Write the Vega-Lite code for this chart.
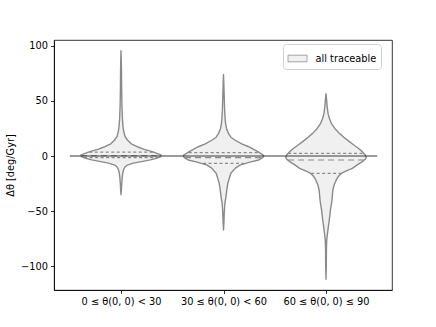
{
  "$schema": "https://vega.github.io/schema/vega-lite/v6.json",
  "width": 338,
  "height": 250,
  "autosize": {"type": "none"},
  "padding": {"left": 54, "top": 40, "right": 44, "bottom": 37},
  "config": {
    "font": "DejaVu Sans",
    "view": {"stroke": "#000", "strokeWidth": 0.8},
    "axis": {
      "grid": false,
      "labelFont": "DejaVu Sans",
      "labelFontSize": 9.8,
      "labelColor": "#000",
      "domainColor": "#000",
      "domainWidth": 0.8,
      "tickColor": "#000",
      "tickWidth": 0.8,
      "tickSize": 3.5,
      "labelPadding": 3,
      "titleFont": "DejaVu Sans",
      "titleFontSize": 9.8,
      "titleFontWeight": "normal",
      "titleColor": "#000"
    }
  },
  "datasets": {
    "violins": [
      {"g": 0, "s": "all traceable", "y": 95.5, "w": 0},
      {"g": 0, "s": "all traceable", "y": 80, "w": 0.004},
      {"g": 0, "s": "all traceable", "y": 60, "w": 0.006},
      {"g": 0, "s": "all traceable", "y": 45, "w": 0.009},
      {"g": 0, "s": "all traceable", "y": 35, "w": 0.013},
      {"g": 0, "s": "all traceable", "y": 28, "w": 0.018},
      {"g": 0, "s": "all traceable", "y": 23.5, "w": 0.024},
      {"g": 0, "s": "all traceable", "y": 18, "w": 0.038},
      {"g": 0, "s": "all traceable", "y": 14.5, "w": 0.062},
      {"g": 0, "s": "all traceable", "y": 11, "w": 0.1},
      {"g": 0, "s": "all traceable", "y": 8.4, "w": 0.158},
      {"g": 0, "s": "all traceable", "y": 6, "w": 0.226},
      {"g": 0, "s": "all traceable", "y": 3.9, "w": 0.305},
      {"g": 0, "s": "all traceable", "y": 2, "w": 0.364},
      {"g": 0, "s": "all traceable", "y": 0.8, "w": 0.393},
      {"g": 0, "s": "all traceable", "y": -0.5, "w": 0.388},
      {"g": 0, "s": "all traceable", "y": -2.1, "w": 0.345},
      {"g": 0, "s": "all traceable", "y": -3.5, "w": 0.286},
      {"g": 0, "s": "all traceable", "y": -5.1, "w": 0.198},
      {"g": 0, "s": "all traceable", "y": -6.5, "w": 0.12},
      {"g": 0, "s": "all traceable", "y": -8.2, "w": 0.062},
      {"g": 0, "s": "all traceable", "y": -10, "w": 0.038},
      {"g": 0, "s": "all traceable", "y": -12.7, "w": 0.024},
      {"g": 0, "s": "all traceable", "y": -16, "w": 0.016},
      {"g": 0, "s": "all traceable", "y": -20, "w": 0.011},
      {"g": 0, "s": "all traceable", "y": -25, "w": 0.007},
      {"g": 0, "s": "all traceable", "y": -30, "w": 0.004},
      {"g": 0, "s": "all traceable", "y": -35, "w": 0},

      {"g": 1, "s": "all traceable", "y": 74, "w": 0},
      {"g": 1, "s": "all traceable", "y": 60, "w": 0.005},
      {"g": 1, "s": "all traceable", "y": 50, "w": 0.008},
      {"g": 1, "s": "all traceable", "y": 41.7, "w": 0.011},
      {"g": 1, "s": "all traceable", "y": 35, "w": 0.015},
      {"g": 1, "s": "all traceable", "y": 29.6, "w": 0.02},
      {"g": 1, "s": "all traceable", "y": 25, "w": 0.029},
      {"g": 1, "s": "all traceable", "y": 20.5, "w": 0.048},
      {"g": 1, "s": "all traceable", "y": 17, "w": 0.072},
      {"g": 1, "s": "all traceable", "y": 14.5, "w": 0.11},
      {"g": 1, "s": "all traceable", "y": 11, "w": 0.178},
      {"g": 1, "s": "all traceable", "y": 8.4, "w": 0.246},
      {"g": 1, "s": "all traceable", "y": 6, "w": 0.295},
      {"g": 1, "s": "all traceable", "y": 3.9, "w": 0.334},
      {"g": 1, "s": "all traceable", "y": 2, "w": 0.369},
      {"g": 1, "s": "all traceable", "y": 0.3, "w": 0.393},
      {"g": 1, "s": "all traceable", "y": -1.5, "w": 0.383},
      {"g": 1, "s": "all traceable", "y": -3.6, "w": 0.344},
      {"g": 1, "s": "all traceable", "y": -5.5, "w": 0.257},
      {"g": 1, "s": "all traceable", "y": -8.2, "w": 0.16},
      {"g": 1, "s": "all traceable", "y": -11, "w": 0.116},
      {"g": 1, "s": "all traceable", "y": -15.7, "w": 0.072},
      {"g": 1, "s": "all traceable", "y": -20, "w": 0.057},
      {"g": 1, "s": "all traceable", "y": -24.7, "w": 0.042},
      {"g": 1, "s": "all traceable", "y": -30, "w": 0.033},
      {"g": 1, "s": "all traceable", "y": -36.8, "w": 0.024},
      {"g": 1, "s": "all traceable", "y": -42, "w": 0.015},
      {"g": 1, "s": "all traceable", "y": -46, "w": 0.011},
      {"g": 1, "s": "all traceable", "y": -52, "w": 0.007},
      {"g": 1, "s": "all traceable", "y": -60, "w": 0.004},
      {"g": 1, "s": "all traceable", "y": -67, "w": 0},

      {"g": 2, "s": "all traceable", "y": 56.5, "w": 0},
      {"g": 2, "s": "all traceable", "y": 50.7, "w": 0.006},
      {"g": 2, "s": "all traceable", "y": 45, "w": 0.011},
      {"g": 2, "s": "all traceable", "y": 38.6, "w": 0.02},
      {"g": 2, "s": "all traceable", "y": 34, "w": 0.033},
      {"g": 2, "s": "all traceable", "y": 29.6, "w": 0.052},
      {"g": 2, "s": "all traceable", "y": 25, "w": 0.086},
      {"g": 2, "s": "all traceable", "y": 20.5, "w": 0.13},
      {"g": 2, "s": "all traceable", "y": 17, "w": 0.174},
      {"g": 2, "s": "all traceable", "y": 13, "w": 0.228},
      {"g": 2, "s": "all traceable", "y": 10, "w": 0.272},
      {"g": 2, "s": "all traceable", "y": 7, "w": 0.315},
      {"g": 2, "s": "all traceable", "y": 4, "w": 0.354},
      {"g": 2, "s": "all traceable", "y": 0.9, "w": 0.383},
      {"g": 2, "s": "all traceable", "y": -1.2, "w": 0.393},
      {"g": 2, "s": "all traceable", "y": -3, "w": 0.383},
      {"g": 2, "s": "all traceable", "y": -5.1, "w": 0.354},
      {"g": 2, "s": "all traceable", "y": -8, "w": 0.305},
      {"g": 2, "s": "all traceable", "y": -11.2, "w": 0.257},
      {"g": 2, "s": "all traceable", "y": -13.5, "w": 0.198},
      {"g": 2, "s": "all traceable", "y": -15.7, "w": 0.15},
      {"g": 2, "s": "all traceable", "y": -18.5, "w": 0.12},
      {"g": 2, "s": "all traceable", "y": -21.7, "w": 0.1},
      {"g": 2, "s": "all traceable", "y": -26, "w": 0.08},
      {"g": 2, "s": "all traceable", "y": -30.8, "w": 0.067},
      {"g": 2, "s": "all traceable", "y": -36, "w": 0.062},
      {"g": 2, "s": "all traceable", "y": -40, "w": 0.058},
      {"g": 2, "s": "all traceable", "y": -44, "w": 0.052},
      {"g": 2, "s": "all traceable", "y": -49, "w": 0.043},
      {"g": 2, "s": "all traceable", "y": -54, "w": 0.037},
      {"g": 2, "s": "all traceable", "y": -58, "w": 0.032},
      {"g": 2, "s": "all traceable", "y": -62, "w": 0.026},
      {"g": 2, "s": "all traceable", "y": -67, "w": 0.019},
      {"g": 2, "s": "all traceable", "y": -72, "w": 0.012},
      {"g": 2, "s": "all traceable", "y": -76, "w": 0.007},
      {"g": 2, "s": "all traceable", "y": -85, "w": 0.004},
      {"g": 2, "s": "all traceable", "y": -100, "w": 0.003},
      {"g": 2, "s": "all traceable", "y": -111.7, "w": 0}
    ],
    "quartiles": [
      {"g": 0, "k": "q", "y": 3.6, "w": 0.31},
      {"g": 0, "k": "m", "y": 0.3, "w": 0.39},
      {"g": 0, "k": "q", "y": -1.5, "w": 0.36},
      {"g": 1, "k": "q", "y": 3.0, "w": 0.34},
      {"g": 1, "k": "m", "y": -1.5, "w": 0.375},
      {"g": 1, "k": "q", "y": -6.6, "w": 0.2},
      {"g": 2, "k": "q", "y": 2.4, "w": 0.37},
      {"g": 2, "k": "m", "y": -3.6, "w": 0.37},
      {"g": 2, "k": "q", "y": -15.7, "w": 0.145}
    ],
    "zeroline": [
      {"x": -0.5, "x2": 2.5, "y": 0}
    ]
  },
  "layer": [
    {
      "data": {"name": "violins"},
      "transform": [
        {"calculate": "datum.g - datum.w", "as": "lo"},
        {"calculate": "datum.g + datum.w", "as": "hi"}
      ],
      "mark": {"type": "area", "orient": "horizontal", "stroke": "#8a8a8a", "strokeWidth": 1.4, "strokeJoin": "round"},
      "encoding": {
        "y": {
          "field": "y", "type": "quantitative",
          "scale": {"domain": [-121.4, 105.1], "nice": false, "zero": false},
          "axis": {"values": [-100, -50, 0, 50, 100], "title": "Δθ [deg/Gyr]", "titlePadding": 5}
        },
        "x": {
          "field": "lo", "type": "quantitative",
          "scale": {"domain": [-0.654, 2.644], "nice": false, "zero": false},
          "axis": {
            "values": [0, 1, 2],
            "labelExpr": "['0 ≤ θ(0, 0) < 30', '30 ≤ θ(0, 0) < 60', '60 ≤ θ(0, 0) ≤ 90'][datum.value]",
            "title": null
          }
        },
        "x2": {"field": "hi"},
        "detail": {"field": "g"},
        "fill": {
          "field": "s", "type": "nominal",
          "scale": {"range": ["#f0f0f0"]},
          "legend": {
            "title": null,
            "orient": "none",
            "legendX": 229,
            "legendY": 4,
            "strokeColor": "#d0d0d0",
            "fillColor": "#ffffff",
            "cornerRadius": 3,
            "padding": 4.5,
            "symbolType": "M-1,-0.35L1,-0.35L1,0.35L-1,0.35Z",
            "symbolSize": 361,
            "symbolStrokeColor": "#9a9a9a",
            "symbolStrokeWidth": 0.9,
            "symbolFillColor": "#f0f0f0",
            "labelFontSize": 9.8,
            "labelFont": "DejaVu Sans",
            "labelColor": "#000",
            "labelOffset": 8
          }
        }
      }
    },
    {
      "data": {"name": "quartiles"},
      "transform": [
        {"calculate": "datum.g - datum.w", "as": "lo"},
        {"calculate": "datum.g + datum.w", "as": "hi"}
      ],
      "mark": {"type": "rule", "color": "#8a8a8a", "strokeWidth": 1.2},
      "encoding": {
        "y": {"field": "y", "type": "quantitative"},
        "x": {"field": "lo", "type": "quantitative"},
        "x2": {"field": "hi"},
        "strokeDash": {
          "field": "k", "type": "nominal",
          "scale": {"domain": ["q", "m"], "range": [[3, 2.5], [6, 4]]},
          "legend": null
        }
      }
    },
    {
      "data": {"name": "zeroline"},
      "mark": {"type": "rule", "color": "#3a3a3a", "strokeWidth": 1.1},
      "encoding": {
        "y": {"field": "y", "type": "quantitative"},
        "x": {"field": "x", "type": "quantitative"},
        "x2": {"field": "x2"}
      }
    }
  ]
}
